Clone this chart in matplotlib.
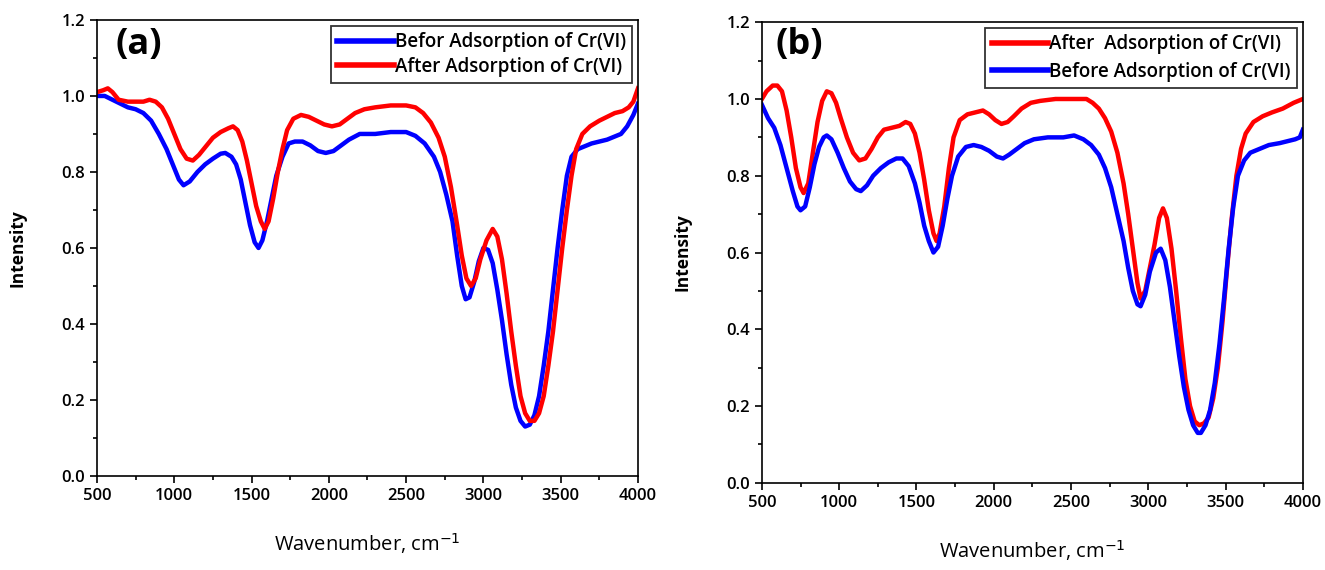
import matplotlib
matplotlib.use('Agg')
import matplotlib.pyplot as plt
from matplotlib.ticker import MultipleLocator

plt.rcParams['font.family'] = ['Open Sans', 'DejaVu Sans']

# panel (a) - before adsorption
a_before_x = [500, 550, 600, 650, 700, 750, 800, 850, 900, 950, 1000, 1030, 1060, 1100, 1150, 1200,
              1250, 1300, 1330, 1370, 1400, 1430, 1460, 1490, 1520, 1545, 1570, 1600, 1630, 1660,
              1700, 1740, 1780, 1830, 1880, 1930, 1980, 2030, 2080, 2130, 2200, 2300, 2400, 2500,
              2560, 2620, 2680, 2720, 2760, 2800, 2830, 2860, 2885, 2910, 2940, 2970, 3000, 3030,
              3060, 3090, 3120, 3150, 3180, 3210, 3240, 3270, 3300, 3330, 3360, 3390, 3420, 3450,
              3480, 3510, 3540, 3570, 3610, 3700, 3800, 3860, 3890, 3930, 3970, 4000]
a_before_y = [1.0, 1.0, 0.99, 0.98, 0.97, 0.965, 0.955, 0.935, 0.90, 0.86, 0.81, 0.78, 0.765, 0.775, 0.80, 0.82,
              0.835, 0.848, 0.85, 0.84, 0.82, 0.78, 0.72, 0.66, 0.615, 0.60, 0.62, 0.67, 0.73, 0.79,
              0.84, 0.875, 0.88, 0.88, 0.87, 0.855, 0.85, 0.855, 0.87, 0.885, 0.90, 0.90, 0.905, 0.905,
              0.895, 0.875, 0.84, 0.80, 0.74, 0.67, 0.58, 0.50, 0.465, 0.47, 0.51, 0.565, 0.60, 0.595,
              0.56, 0.49, 0.41, 0.32, 0.24, 0.18, 0.145, 0.13, 0.135, 0.16, 0.21, 0.29, 0.38, 0.49,
              0.60, 0.70, 0.79, 0.84, 0.86, 0.875, 0.885, 0.895, 0.90, 0.92, 0.95, 0.98]

# panel (a) - after adsorption
a_after_x = [500, 540, 570, 600, 640, 700, 800, 840, 880, 920, 960, 1000, 1040, 1080, 1120, 1160, 1200,
             1250, 1300, 1350, 1380, 1410, 1440, 1470, 1500, 1530, 1560, 1585, 1610, 1640, 1670, 1700,
             1730, 1770, 1820, 1870, 1920, 1970, 2020, 2070, 2120, 2170, 2230, 2300, 2400, 2500, 2560,
             2610, 2660, 2710, 2750, 2790, 2830, 2860, 2890, 2920, 2950, 2980, 3020, 3060, 3090, 3120,
             3150, 3180, 3210, 3240, 3270, 3300, 3330, 3360, 3390, 3420, 3450, 3480, 3510, 3540, 3570,
             3600, 3640, 3690, 3750, 3800, 3850, 3900, 3940, 3970, 4000]
a_after_y = [1.01, 1.015, 1.02, 1.01, 0.99, 0.985, 0.985, 0.99, 0.985, 0.97, 0.94, 0.90, 0.86, 0.835, 0.83, 0.845, 0.865,
             0.89, 0.905, 0.915, 0.92, 0.91, 0.88, 0.83, 0.77, 0.71, 0.67, 0.65, 0.67, 0.73, 0.80, 0.86,
             0.91, 0.94, 0.95, 0.945, 0.935, 0.925, 0.92, 0.925, 0.94, 0.955, 0.965, 0.97, 0.975, 0.975, 0.97,
             0.955, 0.93, 0.89, 0.84, 0.76, 0.66, 0.58, 0.52, 0.50, 0.52, 0.57, 0.62, 0.65, 0.63, 0.57,
             0.48, 0.38, 0.29, 0.21, 0.165, 0.145, 0.145, 0.165, 0.21, 0.29, 0.38, 0.49, 0.60, 0.70, 0.79,
             0.86, 0.90, 0.92, 0.935, 0.945, 0.955, 0.96, 0.97, 0.985, 1.02]

# panel (b) - after adsorption
b_after_x = [500, 530, 570, 600, 630, 660, 690, 720, 750, 770, 800, 830, 860, 890, 920, 950, 980, 1010,
             1050, 1090, 1130, 1170, 1210, 1250, 1290, 1340, 1390, 1430, 1460, 1490, 1520, 1550, 1580,
             1610, 1630, 1650, 1680, 1710, 1740, 1780, 1830, 1880, 1930, 1970, 2010, 2050, 2090, 2130,
             2180, 2240, 2300, 2400, 2500, 2600, 2640, 2680, 2720, 2760, 2800, 2840, 2870, 2900, 2930,
             2950, 2980, 3010, 3040, 3070, 3095, 3120, 3150, 3180, 3210, 3240, 3270, 3300, 3330, 3360,
             3390, 3420, 3450, 3480, 3510, 3540, 3570, 3600, 3630, 3680, 3740, 3800, 3870, 3940, 4000]
b_after_y = [1.0, 1.02, 1.035, 1.035, 1.02, 0.97, 0.90, 0.82, 0.77, 0.755, 0.78, 0.86, 0.94, 0.995, 1.02, 1.015, 0.99, 0.95,
             0.90, 0.86, 0.84, 0.845, 0.87, 0.90, 0.92, 0.925, 0.93, 0.94, 0.935, 0.91, 0.86, 0.79, 0.71,
             0.65, 0.63, 0.65, 0.72, 0.82, 0.90, 0.945, 0.96, 0.965, 0.97, 0.96, 0.945, 0.935, 0.94, 0.955,
             0.975, 0.99, 0.995, 1.0, 1.0, 1.0, 0.99, 0.975, 0.95, 0.915, 0.86, 0.78, 0.70, 0.61, 0.52,
             0.48, 0.50, 0.56, 0.62, 0.69, 0.715, 0.69, 0.61, 0.50, 0.38, 0.27, 0.20, 0.16, 0.15, 0.155,
             0.17, 0.22, 0.30, 0.42, 0.56, 0.69, 0.80, 0.87, 0.91, 0.94, 0.955, 0.965, 0.975, 0.99, 1.0]

# panel (b) - before adsorption
b_before_x = [500, 540, 580, 620, 660, 700, 730, 750, 780, 810, 840, 870, 900, 920, 950, 990, 1030, 1070,
              1110, 1140, 1180, 1220, 1270, 1320, 1370, 1410, 1450, 1490, 1520, 1550, 1580, 1610, 1640,
              1670, 1700, 1730, 1770, 1820, 1870, 1920, 1970, 2020, 2060, 2100, 2150, 2200, 2260, 2350,
              2450, 2520, 2580, 2630, 2680, 2720, 2760, 2800, 2840, 2870, 2900, 2930, 2950, 2980, 3010,
              3050, 3080, 3110, 3140, 3170, 3200, 3230, 3260, 3290, 3320, 3340, 3370, 3400, 3430, 3460,
              3490, 3520, 3550, 3580, 3620, 3660, 3720, 3780, 3850, 3900, 3950, 3980, 4000]
b_before_y = [0.985, 0.95, 0.925, 0.88, 0.82, 0.76, 0.72, 0.71, 0.72, 0.77, 0.83, 0.875, 0.90, 0.905, 0.895, 0.86, 0.82, 0.785,
              0.765, 0.76, 0.775, 0.80, 0.82, 0.835, 0.845, 0.845, 0.825, 0.78, 0.73, 0.67, 0.63, 0.60, 0.615,
              0.67, 0.74, 0.80, 0.85, 0.875, 0.88, 0.875, 0.865, 0.85, 0.845, 0.855, 0.87, 0.885, 0.895, 0.90,
              0.90, 0.905, 0.895, 0.88, 0.855, 0.82, 0.77, 0.70, 0.63, 0.56, 0.50, 0.465, 0.46, 0.49, 0.55,
              0.60, 0.61, 0.58, 0.51, 0.42, 0.33, 0.25, 0.19, 0.15, 0.13, 0.13, 0.15, 0.19, 0.26, 0.36,
              0.48, 0.61, 0.72, 0.80, 0.84, 0.86, 0.87, 0.88, 0.885, 0.89, 0.895, 0.90, 0.92]

fig = plt.figure(figsize=(13.25, 5.7), dpi=100)
ax1 = fig.add_axes([0.0732, 0.165, 0.4083, 0.800])
ax2 = fig.add_axes([0.575, 0.153, 0.4083, 0.808])


def style(ax, tag, tag_x, tag_y):
    ax.set_xlim(500, 4000)
    ax.set_ylim(0, 1.2)
    ax.xaxis.set_major_locator(MultipleLocator(500))
    ax.xaxis.set_minor_locator(MultipleLocator(250))
    ax.yaxis.set_major_locator(MultipleLocator(0.2))
    ax.yaxis.set_minor_locator(MultipleLocator(0.1))
    ax.yaxis.set_major_formatter(plt.FormatStrFormatter('%.1f'))
    ax.tick_params(which='both', top=False, right=False, direction='out', width=1.2, labelsize=12)
    ax.tick_params(which='major', length=5)
    ax.tick_params(which='minor', length=3)
    for lab in ax.get_xticklabels() + ax.get_yticklabels():
        lab.set_fontweight('semibold')
    for s in ax.spines.values():
        s.set_linewidth(1.2)
    ax.set_ylabel('Intensity', fontsize=12.5, fontweight='bold', labelpad=25)
    ax.set_xlabel('Wavenumber, cm$^{-1}$', fontsize=14.5, labelpad=20)
    ax.text(tag_x, tag_y, tag, transform=ax.transAxes, fontsize=26, fontweight='bold',
            va='top', ha='left')


def add_legend(ax, spacing, size):
    leg = ax.legend(loc='upper right', frameon=True, fancybox=False, edgecolor='black',
                    handlelength=3.0, handletextpad=0.05, borderaxespad=0.3, labelspacing=spacing,
                    borderpad=0.35, prop={'weight': 'semibold', 'size': size})
    leg.get_frame().set_linewidth(1.3)
    for h in leg.get_lines():
        h.set_linewidth(4)


ax1.plot(a_before_x, a_before_y, color='#0000ff', lw=3.2, label='Befor Adsorption of Cr(VI)')
ax1.plot(a_after_x, a_after_y, color='#ff0000', lw=3.2, label='After Adsorption of Cr(VI)')
style(ax1, '(a)', 0.035, 0.985)
add_legend(ax1, 0.25, 13.5)

ax2.plot(b_after_x, b_after_y, color='#ff0000', lw=3.2, label='After  Adsorption of Cr(VI)')
ax2.plot(b_before_x, b_before_y, color='#0000ff', lw=3.2, label='Before Adsorption of Cr(VI)')
style(ax2, '(b)', 0.025, 0.99)
add_legend(ax2, 0.4, 13.5)

fig.savefig('out.png', dpi=100)
